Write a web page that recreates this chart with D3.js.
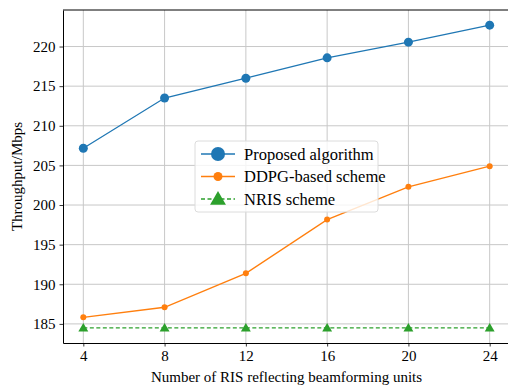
<!DOCTYPE html>
<html>
<head>
<meta charset="utf-8">
<script src="https://cdn.jsdelivr.net/npm/d3@7"></script>
<style>
  body { margin: 0; background: #fff; }
  svg text { font-family: "Liberation Serif", "Times New Roman", "DejaVu Serif", serif !important; }
</style>
</head>
<body>
<div id="chart"></div>
<script>
// Chart data
const units = [4, 8, 12, 16, 20, 24];
const proposed = [207.17, 213.5, 216.0, 218.57, 220.55, 222.7];
const ddpg = [185.83, 187.1, 191.38, 198.16, 202.3, 204.9];
const nris = [184.5, 184.5, 184.5, 184.5, 184.5, 184.5];
const yTicks = [185, 190, 195, 200, 205, 210, 215, 220];

const seriesList = [
    { name: "Proposed algorithm", values: proposed, color: "#1f77b4", marker: "circle", r: 4.5, lr: 7, dash: null },
    { name: "DDPG-based scheme", values: ddpg, color: "#ff7f0e", marker: "circle", r: 3, lr: 4.5, dash: null },
    { name: "NRIS scheme", values: nris, color: "#2ca02c", marker: "triangle", r: 5, lr: 8, dash: "4,2.5" }
];

const W = 508, H = 385;
const margin = { top: 10, right: -2, bottom: 42, left: 63 };
const width = W - margin.left - margin.right;
const height = H - margin.top - margin.bottom;
const FONT = "Liberation Serif";

const svg = d3.select("#chart").append("svg")
    .attr("width", W)
    .attr("height", H)
    .attr("font-family", FONT);

const g = svg.append("g")
    .attr("transform", `translate(${margin.left},${margin.top})`);

// Scales (matplotlib-style 5% margins)
const x = d3.scaleLinear().domain([3, 25]).range([0, width]);
const yMin = d3.min(nris), yMax = d3.max(proposed);
const pad = (yMax - yMin) * 0.05;
const y = d3.scaleLinear().domain([yMin - pad, yMax + pad]).range([height, 0]);

// Grid lines
g.append("g").selectAll("line")
    .data(units)
    .join("line")
    .attr("x1", d => x(d)).attr("x2", d => x(d))
    .attr("y1", 0).attr("y2", height)
    .attr("stroke", "#c8c8c8").attr("stroke-width", 1);

g.append("g").selectAll("line")
    .data(yTicks)
    .join("line")
    .attr("x1", 0).attr("x2", width)
    .attr("y1", d => y(d)).attr("y2", d => y(d))
    .attr("stroke", "#c8c8c8").attr("stroke-width", 1);

// Axes
const xAxis = g.append("g")
    .attr("transform", `translate(0,${height})`)
    .call(d3.axisBottom(x).tickValues(units).tickSize(3.5).tickPadding(4).tickSizeOuter(0));

const yAxis = g.append("g")
    .call(d3.axisLeft(y).tickValues(yTicks).tickSize(3.5).tickPadding(4).tickSizeOuter(0));

[xAxis, yAxis].forEach(a => {
    a.attr("font-family", FONT).attr("font-size", 15);
    a.selectAll("text").attr("fill", "#000");
    a.selectAll(".tick line").attr("stroke", "#000").attr("stroke-width", 0.8);
    a.select(".domain").attr("stroke", "#000").attr("stroke-width", 1);
});

// Top spine
g.append("line")
    .attr("x1", 0).attr("x2", width)
    .attr("y1", 0).attr("y2", 0)
    .attr("stroke", "#000").attr("stroke-width", 1);

// Lines and markers
const line = d3.line()
    .x((d, i) => x(units[i]))
    .y(d => y(d));

const triangle = d3.symbol().type(d3.symbolTriangle);

const drawMarker = (sel, s, r) => {
    if (s.marker === "circle") {
        sel.append("circle").attr("r", r).attr("fill", s.color);
    } else {
        sel.append("path")
            .attr("d", triangle.size(r * r * 1.7)())
            .attr("transform", `translate(0,${r * 0.15})`)
            .attr("fill", s.color);
    }
};

seriesList.forEach(s => {
    g.append("path")
        .datum(s.values)
        .attr("d", line)
        .attr("fill", "none")
        .attr("stroke", s.color)
        .attr("stroke-width", 1.3)
        .attr("stroke-dasharray", s.dash);

    s.values.forEach((v, i) => {
        const m = g.append("g").attr("transform", `translate(${x(units[i])},${y(v)})`);
        drawMarker(m, s, s.r);
    });
});

// Legend
const legend = svg.append("g").attr("transform", "translate(195,141)");
legend.append("rect")
    .attr("width", 183).attr("height", 71)
    .attr("rx", 3)
    .attr("fill", "rgba(255,255,255,0.8)")
    .attr("stroke", "#dcdcdc").attr("stroke-width", 1);

seriesList.forEach((s, i) => {
    const row = legend.append("g").attr("transform", `translate(0,${13 + i * 22.5})`);
    row.append("line")
        .attr("x1", 6).attr("x2", 40)
        .attr("stroke", s.color).attr("stroke-width", 1.3)
        .attr("stroke-dasharray", s.dash);
    const m = row.append("g").attr("transform", "translate(23,0)");
    drawMarker(m, s, s.lr);
    row.append("text")
        .attr("x", 49).attr("y", 5.5)
        .attr("font-size", 16.5)
        .text(s.name);
});

// Axis labels
svg.append("text")
    .attr("x", margin.left + width / 2)
    .attr("y", H - 3)
    .attr("text-anchor", "middle")
    .attr("font-size", 15)
    .text("Number of RIS reflecting beamforming units");

svg.append("text")
    .attr("transform", `translate(22,${margin.top + height / 2}) rotate(-90)`)
    .attr("text-anchor", "middle")
    .attr("font-size", 15)
    .text("Throughput/Mbps");
</script>
</body>
</html>
